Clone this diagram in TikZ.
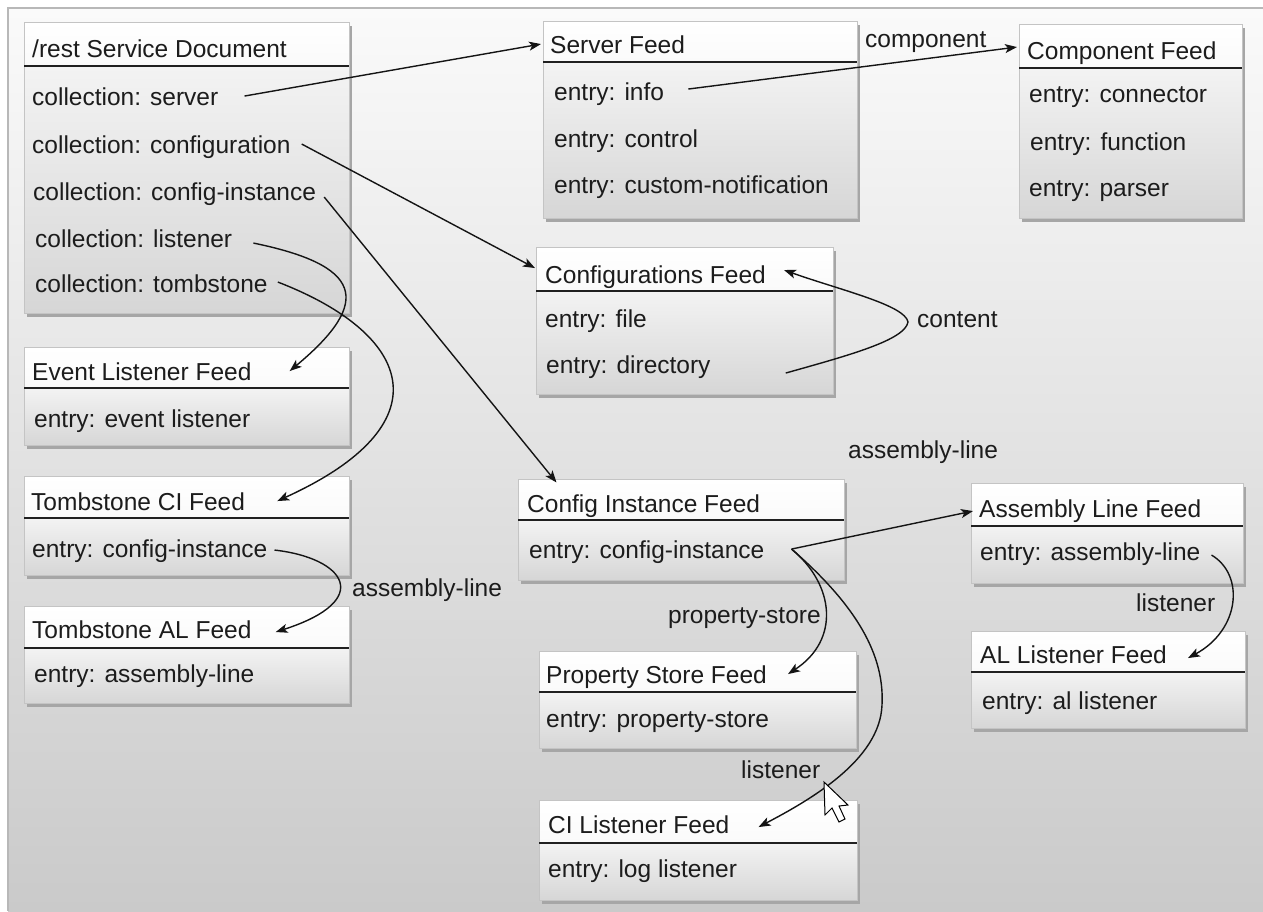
\documentclass[tikz,border=0pt]{standalone}
\usepackage{fontspec}
\setmainfont{Liberation Sans}
\usetikzlibrary{arrows.meta}
\definecolor{linec}{HTML}{141414}
\definecolor{textc}{HTML}{1C1C1C}
\definecolor{bgtop}{HTML}{FAFAFA}
\definecolor{bgbot}{HTML}{CACACA}
\definecolor{framec}{HTML}{B8B8B8}
\definecolor{bodytop}{HTML}{F3F3F3}
\definecolor{bodybot}{HTML}{D6D6D6}
\definecolor{headbot}{HTML}{FAFAFA}
\definecolor{bordc}{HTML}{C4C4C4}
\definecolor{shadowc}{HTML}{A6A6A6}
\definecolor{sepc}{HTML}{202020}
\tikzset{
  txt/.style={anchor=base west, inner sep=0pt, text height=19.6pt, text depth=1.7pt,
    font=\fontsize{24.5}{28}\selectfont, text=textc},
  boxn/.style={rectangle, inner sep=0pt, draw=bordc, line width=1pt},
  conn/.style={draw=linec, line width=1.4pt, -{Stealth[length=12pt,width=9pt,inset=3pt]}},
}
\newcommand{\feed}[6]{%
  \fill[shadowc] ({#2+3},{#3+4}) rectangle ({#4+3},{#6+4});
  \shade[top color=bodytop, bottom color=bodybot] (#2,#5) rectangle (#4,#6);
  \shade[top color=white, bottom color=headbot] (#2,#3) rectangle (#4,#5);
  \node[boxn, minimum width={#4-#2}, minimum height={#6-#3}] (#1) at ({(#2+#4)/2},{(#3+#6)/2}) {};
  \draw[sepc, line width=1.5pt] (#2,#5) -- (#4,#5);
}
\begin{document}
\begin{tikzpicture}[x=1pt,y=-1pt]
\useasboundingbox (0,0) rectangle (1263,911);
% background
\fill[white] (0,0) rectangle (1263,911);
\shade[top color=bgtop, bottom color=bgbot] (8,8) rectangle (1263,911);
\draw[framec, line width=2pt] (8,911) -- (8,8) -- (1263,8);

% boxes
\feed{b1}{24}{22}{349}{66}{313}
\node[txt] (t1) at (32,57) {/rest Service Document};
\node[txt] (r11) at (32,105) {collection: server};
\node[txt] (r12) at (32,153) {collection: configuration};
\node[txt] (r13) at (33,200) {collection: config-instance};
\node[txt] (r14) at (35,247) {collection: listener};
\node[txt] (r15) at (35,292) {collection: tombstone};

\feed{b2}{543}{21}{857}{62}{218}
\node[txt] (t2) at (550,53) {Server Feed};
\node[txt] (r21) at (554,100) {entry: info};
\node[txt] (r22) at (554,147) {entry: control};
\node[txt] (r23) at (554,193) {entry: custom-notification};

\feed{b3}{1019}{24}{1242}{68}{218}
\node[txt] (t3) at (1027,59) {Component Feed};
\node[txt] (r31) at (1029,102) {entry: connector};
\node[txt] (r32) at (1030,150) {entry: function};
\node[txt] (r33) at (1029,196) {entry: parser};

\feed{b4}{24}{347}{349}{388}{445}
\node[txt] (t4) at (32,380) {Event Listener Feed};
\node[txt] (r4) at (34,427) {entry: event listener};

\feed{b5}{24}{476}{349}{518}{575}
\node[txt] (t5) at (31,510) {Tombstone CI Feed};
\node[txt] (r5) at (32,557) {entry: config-instance};

\feed{b6}{24}{606}{349}{648}{703}
\node[txt] (t6) at (32,638) {Tombstone AL Feed};
\node[txt] (r6) at (34,682) {entry: assembly-line};

\feed{b7}{536}{247}{833}{291}{394}
\node[txt] (t7) at (545,283) {Configurations Feed};
\node[txt] (r71) at (545,327) {entry: file};
\node[txt] (r72) at (546,373) {entry: directory};

\feed{b8}{518}{479}{844}{520}{580}
\node[txt] (t8) at (527,512) {Config Instance Feed};
\node[txt] (r8) at (529,558) {entry: config-instance};

\feed{b9}{539}{651}{856}{692}{748}
\node[txt] (t9) at (546,683) {Property Store Feed};
\node[txt] (r9) at (546,727) {entry: property-store};

\feed{b10}{539}{800}{857}{843}{900}
\node[txt] (t10) at (548,833) {CI Listener Feed};
\node[txt] (r10) at (548,877) {entry: log listener};

\feed{b11}{971}{483}{1243}{526}{583}
\node[txt] (t11) at (979,517) {Assembly Line Feed};
\node[txt] (r11b) at (980,560) {entry: assembly-line};

\feed{b12}{971}{631}{1245}{672}{728}
\node[txt] (t12) at (980,663) {AL Listener Feed};
\node[txt] (r12b) at (982,709) {entry: al listener};

% connectors
\draw[conn] ([xshift=26pt]r11.east) -- ([xshift=-9pt]t2.west);
\draw[conn] ([xshift=24pt,yshift=2pt]r21.east) -- ([xshift=-10pt,yshift=3pt]t3.west);
\draw[conn] ([xshift=11pt]r12.east) -- ([xshift=-10pt,yshift=6pt]t7.west);
\draw[conn] ([xshift=8pt,yshift=-6pt]r13.east) -- ([xshift=39pt,yshift=-4pt]b8.north west);
\draw[conn] ([xshift=21pt,yshift=-5pt]r14.east) .. controls (360,265) and (375,300) .. ([xshift=38pt]t4.east);
\draw[conn] ([xshift=10pt,yshift=1pt]r15.east) .. controls (415,335) and (445,425) .. ([xshift=32pt]t5.east);
\draw[conn] ([xshift=7pt,yshift=-2pt]r5.east) .. controls (345,558) and (375,600) .. ([xshift=24pt,yshift=-3pt]t6.east);
\draw[conn] ([xshift=75pt,yshift=-9pt]r72.east) .. controls (850,355) and (905,340) .. (908,322)
   .. controls (905,305) and (840,290) .. ([xshift=18pt,yshift=4pt]t7.east);
\draw[conn] ([xshift=27pt]r8.east) -- ([xshift=-6pt,yshift=-3pt]t11.west);
\draw[conn] ([xshift=27pt]r8.east) .. controls (835,585) and (840,640) .. ([xshift=21pt]t9.east);
\draw[conn] ([xshift=27pt]r8.east) .. controls (850,600) and (885,650) .. (882,705)
   .. controls (880,760) and (810,800) .. ([xshift=29pt,yshift=-3pt]t10.east);
\draw[conn] ([xshift=11pt,yshift=-4pt]r11b.east) .. controls (1245,575) and (1240,630) .. ([xshift=21pt,yshift=-4pt]t12.east);

% connector labels
\node[txt] (lcomp) at (865,47) {component};
\node[txt] (lcont) at (917,327) {content};
\node[txt] (lal1) at (352,596) {assembly-line};
\node[txt] (lal2) at (848,458) {assembly-line};
\node[txt] (lps) at (668,623) {property-store};
\node[txt] (lls1) at (741,778) {listener};
\node[txt] (lls2) at (1136,611) {listener};

% mouse pointer
\filldraw[fill=white, draw=black, line width=1pt, line join=miter]
  (824,782) -- (825,815) -- (832,808) -- (839,822) -- (845,819) -- (839,806) -- (848,805) -- cycle;
\end{tikzpicture}
\end{document}
